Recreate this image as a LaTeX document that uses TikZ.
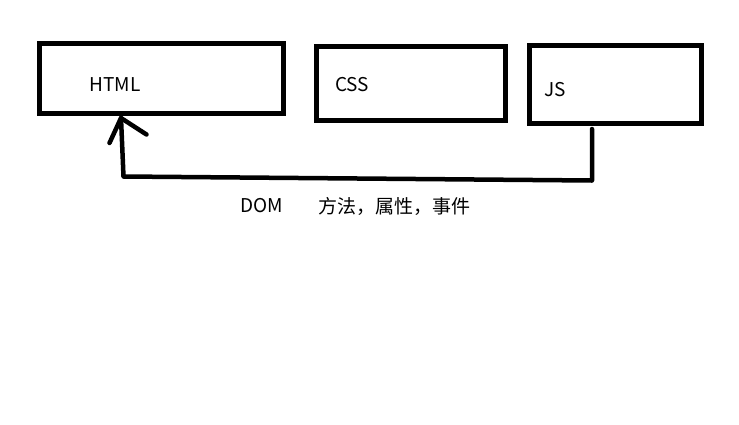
\documentclass[tikz,border=0pt]{standalone}
\usepackage{fontspec}
\setmainfont{Noto Sans CJK SC}
\begin{document}
\begin{tikzpicture}[x=1pt,y=-1pt,
  box/.style={draw=black,line width=5pt,minimum width=#1,inner sep=0pt,outer sep=0pt},
  lbl/.style={font=\fontsize{19}{22}\selectfont,inner sep=0pt,anchor=center},
  wire/.style={line width=4.5pt,line cap=round,line join=round}]
\useasboundingbox[fill=white] (0,0) rectangle (739,424);
\node[box=244pt,minimum height=69.5pt] (html) at (161,78.25) {};
\node[box=189pt,minimum height=73.5pt] (css) at (411,83.25) {};
\node[box=171.5pt,minimum height=78pt] (js) at (615.25,84) {};
\node[lbl] (thtml) at (115,84.5) {HTML};
\node[lbl] (tcss) at (352,85) {CSS};
\node[lbl] (tjs) at (555,90) {JS};
\node[lbl] (tdom) at (262,205.5) {DOM};
\node[lbl] (tmeth) at (394,206) {方法，属性，事件};
\coordinate (a) at (592,129);
\coordinate (b) at (592,180.5);
\coordinate (c) at (123.5,176.5);
\coordinate (tip) at (121,118);
\coordinate (hl) at (109.5,143);
\coordinate (hr) at (146.5,134.5);
\draw[wire] (a) -- (b) -- (c) -- (tip);
\draw[wire] (hl) -- (tip) -- (hr);
\end{tikzpicture}
\end{document}
